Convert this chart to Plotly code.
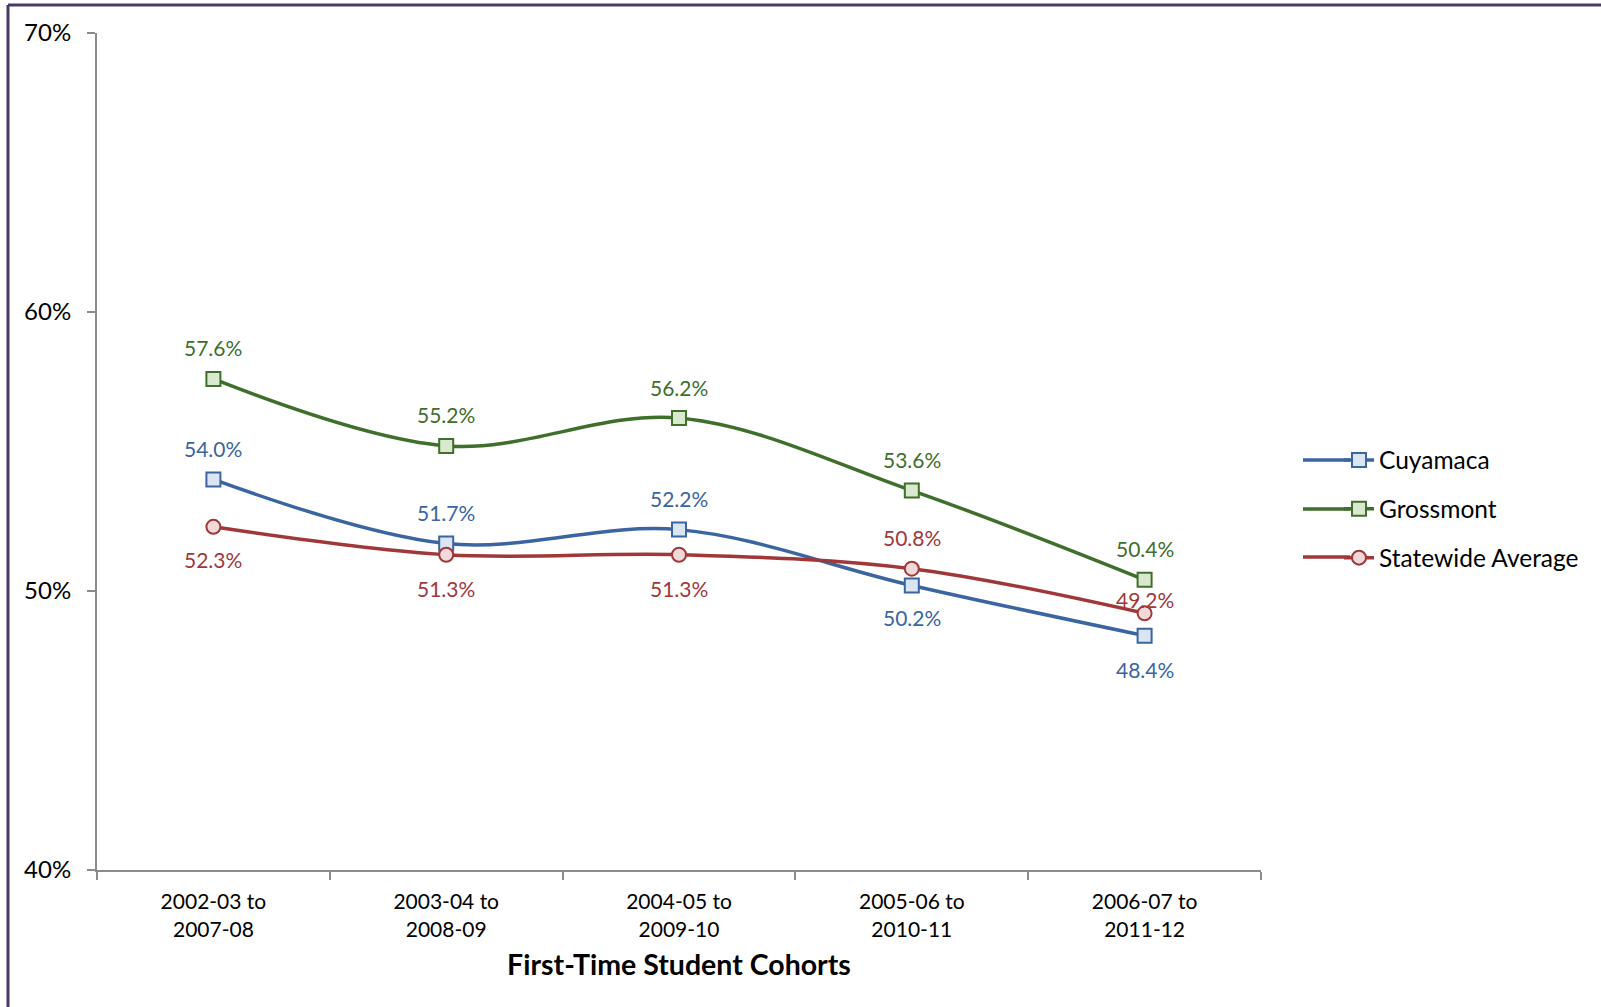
import plotly.graph_objects as go

categories = ["2002-03 to<br>2007-08", "2003-04 to<br>2008-09", "2004-05 to<br>2009-10",
              "2005-06 to<br>2010-11", "2006-07 to<br>2011-12"]
cuyamaca = [54.0, 51.7, 52.2, 50.2, 48.4]
grossmont = [57.6, 55.2, 56.2, 53.6, 50.4]
statewide = [52.3, 51.3, 51.3, 50.8, 49.2]
y_ticks = [40, 50, 60, 70]
y_tick_labels = ["40%", "50%", "60%", "70%"]

W, H = 1601, 1007
L, R, T, B = 97, 1261, 33, 870

# label offsets in px (positive = above the point)
series = [
    dict(name="Cuyamaca", y=cuyamaca, color="#3a65a0", fill="#dbe5f1", symbol="square",
         shift=[31, 31, 31, -32, -34]),
    dict(name="Grossmont", y=grossmont, color="#406e2b", fill="#d8e9cf", symbol="square",
         shift=[31, 31, 31, 31, 31]),
    dict(name="Statewide Average", y=statewide, color="#a0383a", fill="#f2d9d9", symbol="circle",
         shift=[-33, -34, -34, 31, 14]),
]
legend_rows_px = [460, 509, 557]

def px_x(p):
    return (p - L) / (R - L)

def px_y(p):
    return (B - p) / (B - T)

fig = go.Figure()
annotations = []
shapes = []
for i, s in enumerate(series):
    fig.add_trace(go.Scatter(
        x=categories, y=s["y"], name=s["name"], mode="lines+markers",
        line=dict(color=s["color"], width=3.5, shape="spline", smoothing=1.0),
        marker=dict(symbol=s["symbol"], size=14, color=s["fill"],
                    line=dict(color=s["color"], width=2)),
        legendgroup=f"g{i}", hoverinfo="skip",
    ))
    for c, v, sh in zip(categories, s["y"], s["shift"]):
        annotations.append(dict(
            x=c, y=v, xref="x", yref="y", text=f"{v:.1f}%", showarrow=False,
            font=dict(family="Lato, sans-serif", size=21, color=s["color"]),
            yshift=sh,
        ))
    # lengthen legend sample line to the left
    shapes.append(dict(type="line", xref="paper", yref="paper",
                       x0=px_x(1303), x1=px_x(1350),
                       y0=px_y(legend_rows_px[i]), y1=px_y(legend_rows_px[i]),
                       line=dict(color=s["color"], width=3.5)))

# frame
shapes += [
    dict(type="line", xref="paper", yref="paper",
         x0=px_x(8), x1=px_x(W + 10), y0=px_y(5), y1=px_y(5),
         line=dict(color="#4b3a66", width=3)),
    dict(type="line", xref="paper", yref="paper",
         x0=px_x(8), x1=px_x(8), y0=px_y(5), y1=px_y(H + 10),
         line=dict(color="#4b3a66", width=3)),
]

fig.update_layout(
    width=W, height=H,
    margin=dict(l=L, r=W - R, t=T, b=H - B, pad=0),
    paper_bgcolor="white", plot_bgcolor="white",
    font=dict(family="Lato, sans-serif", color="black"),
    showlegend=True,
    legend=dict(
        x=px_x(1339), xanchor="left",
        y=px_y(509), yanchor="middle",
        font=dict(family="Lato, sans-serif", size=24.5, color="black"),
        traceorder="grouped", tracegroupgap=14,
        bgcolor="rgba(0,0,0,0)",
    ),
    annotations=annotations,
    shapes=shapes,
    xaxis=dict(
        type="category", range=[-0.5, 4.5], tickson="boundaries",
        showline=True, linecolor="#8c8c8c", linewidth=2,
        ticks="outside", ticklen=8, tickwidth=2, tickcolor="#8c8c8c",
        showgrid=False, zeroline=False, ticklabelstandoff=12,
        tickfont=dict(family="Lato, sans-serif", size=21, color="black"),
        title=dict(text="<b>First-Time Student Cohorts</b>", standoff=16,
                   font=dict(family="Lato, sans-serif", size=28.5, color="black")),
    ),
    yaxis=dict(
        range=[40, 70], tickvals=y_ticks, ticktext=y_tick_labels,
        showline=True, linecolor="#8c8c8c", linewidth=2,
        ticks="outside", ticklen=8, tickwidth=2, tickcolor="#8c8c8c",
        showgrid=False, zeroline=False, ticklabelstandoff=11,
        tickfont=dict(family="Lato, sans-serif", size=24, color="black"),
    ),
)

fig.write_html("out.html")
